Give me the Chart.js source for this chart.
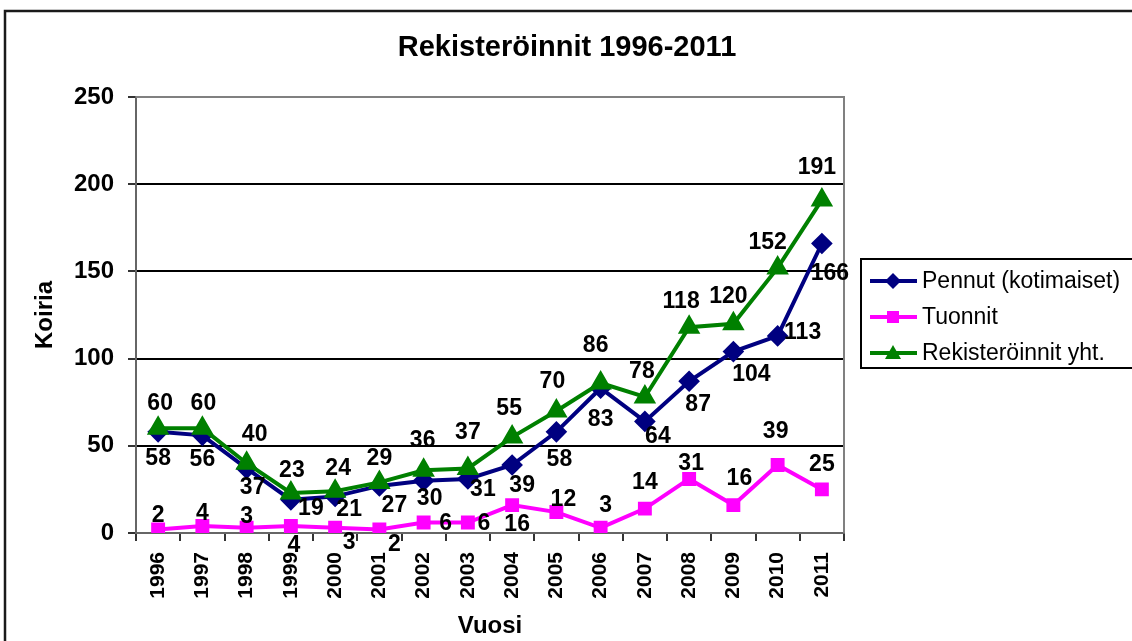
<!DOCTYPE html>
<html>
<head>
<meta charset="utf-8">
<script src="https://cdn.jsdelivr.net/npm/chart.js@4.4.1/dist/chart.umd.min.js"></script>
<style>
body { margin: 0; background: #fff; }
#myChart { display: block; }
</style>
</head>
<body>
<canvas id="myChart" width="1132" height="641"></canvas>
<script>
years = ['1996','1997','1998','1999','2000','2001','2002','2003','2004','2005','2006','2007','2008','2009','2010','2011']
pennut = [58, 56, 37, 19, 21, 27, 30, 31, 39, 58, 83, 64, 87, 104, 113, 166]
tuonnit = [2, 4, 3, 4, 3, 2, 6, 6, 16, 12, 3, 14, 31, 16, 39, 25]
yhteensa = [60, 60, 40, 23, 24, 29, 36, 37, 55, 70, 86, 78, 118, 120, 152, 191]
yTicks = [0, 50, 100, 150, 200, 250]

// where each value label sits relative to its point (dx, dy), like the excel original
pennutLabelPos = [[0,27],[0,24],[6,19],[20,9],[14,13],[15,20],[6,18],[15,11],[10,21],[3,28],[0,31],[13,15],[9,23],[18,23],[25,-3],[8,30]]
tuonnitLabelPos = [[0,-14],[0,-12],[0,-11],[3,20],[14,15],[15,15],[22,1],[16,1],[5,20],[7,-12],[5,-22],[0,-26],[2,-15],[6,-26],[-2,-33],[0,-25]]
yhtLabelPos = [[2,-25],[1,-25],[8,-29],[1,-22],[3,-22],[0,-24],[-1,-30],[0,-36],[-3,-28],[-4,-29],[-5,-37],[-3,-25],[-8,-26],[-5,-27],[-10,-25],[-5,-32]]

const FONT = "'Liberation Sans', Arial, sans-serif"

const extras = {
  id: 'extras',
  beforeDraw(chart) {
    const c = chart.ctx
    c.save()
    c.fillStyle = '#fff'
    c.fillRect(0, 0, chart.width, chart.height)
    c.restore()
  },
  afterDatasetsDraw(chart) {
    const c = chart.ctx
    const a = chart.chartArea
    c.save()
    // plot frame (top and right)
    c.strokeStyle = '#808080'
    c.lineWidth = 2
    c.beginPath()
    c.moveTo(a.left, a.top)
    c.lineTo(a.right, a.top)
    c.lineTo(a.right, a.bottom)
    c.stroke()

    // value labels
    c.fillStyle = '#000'
    c.font = 'bold 23px ' + FONT
    c.textAlign = 'center'
    c.textBaseline = 'middle'
    chart.data.datasets.forEach(function(ds, di) {
      const meta = chart.getDatasetMeta(di)
      meta.data.forEach(function(pt, i) {
        const off = ds.labelPos[i]
        c.fillText(String(ds.data[i]), pt.x + off[0], pt.y + off[1])
      })
    })

    // title
    c.font = 'bold 29px ' + FONT
    c.fillText('Rekisteröinnit 1996-2011', 567, 48)

    // outer frame
    c.strokeStyle = '#1a1a1a'
    c.lineWidth = 2.5
    c.strokeRect(5, 11, 1200, 700)

    // legend box
    c.lineWidth = 2
    c.strokeStyle = '#000'
    c.strokeRect(861, 259, 400, 109)
    c.textAlign = 'left'
    c.font = '23px ' + FONT
    chart.data.datasets.forEach(function(ds, di) {
      const y = 281 + di * 36
      c.strokeStyle = ds.borderColor
      c.lineWidth = 4
      c.beginPath()
      c.moveTo(870, y)
      c.lineTo(917, y)
      c.stroke()
      c.fillStyle = ds.borderColor
      c.beginPath()
      if (ds.pointStyle === 'rectRot') {
        c.moveTo(893, y - 8); c.lineTo(901, y); c.lineTo(893, y + 8); c.lineTo(885, y)
      } else if (ds.pointStyle === 'rect') {
        c.rect(887, y - 6, 12, 12)
      } else {
        c.moveTo(893, y - 8); c.lineTo(901, y + 6); c.lineTo(885, y + 6)
      }
      c.closePath()
      c.fill()
      c.fillStyle = '#000'
      c.fillText(ds.label, 922, y + 1)
    })
    c.restore()
  }
}

const ctx = document.getElementById('myChart').getContext('2d')
const myChart = new Chart(ctx, {
  type: 'line',
  data: {
    labels: years,
    datasets: [{
      label: 'Pennut (kotimaiset)',
      data: pennut,
      labelPos: pennutLabelPos,
      borderColor: '#000080',
      backgroundColor: '#000080',
      borderWidth: 4,
      pointStyle: 'rectRot',
      pointRadius: 8,
      pointHoverRadius: 8,
      tension: 0,
      order: 2
    }, {
      label: 'Tuonnit',
      data: tuonnit,
      labelPos: tuonnitLabelPos,
      borderColor: '#ff00ff',
      backgroundColor: '#ff00ff',
      borderWidth: 4,
      pointStyle: 'rect',
      pointRadius: 7,
      pointHoverRadius: 7,
      tension: 0,
      order: 3
    }, {
      label: 'Rekisteröinnit yht.',
      data: yhteensa,
      labelPos: yhtLabelPos,
      borderColor: '#008000',
      backgroundColor: '#008000',
      borderWidth: 4,
      pointStyle: 'triangle',
      pointRadius: 9,
      pointHoverRadius: 9,
      tension: 0,
      order: 1
    }]
  },
  options: {
    responsive: false,
    animation: false,
    layout: { padding: { left: 27, right: 288, top: 97, bottom: 0 } },
    plugins: {
      legend: { display: false },
      title: { display: false },
      tooltip: { enabled: false }
    },
    scales: {
      x: {
        offset: true,
        afterFit: function(scale) { scale.height = 108 },
        grid: {
          offset: true,
          drawOnChartArea: false,
          tickLength: 8,
          tickColor: '#333',
          lineWidth: 2
        },
        border: { color: '#666', width: 2 },
        ticks: {
          color: '#000',
          font: { family: FONT, size: 21, weight: 'bold' },
          minRotation: 90,
          maxRotation: 90,
          padding: 11,
          autoSkip: false
        },
        title: {
          display: true,
          text: 'Vuosi',
          color: '#000',
          font: { family: FONT, size: 24, weight: 'bold' },
          padding: { top: 0, bottom: 0 }
        }
      },
      y: {
        min: 0,
        max: 250,
        afterFit: function(scale) { scale.width = 109 },
        afterBuildTicks: function(scale) { scale.ticks = yTicks.map(function(v) { return { value: v } }) },
        grid: {
          color: function(c) { return c.tick && c.tick.value === 250 ? '#808080' : '#000' },
          lineWidth: 2,
          tickLength: 8,
          tickColor: '#333'
        },
        border: { color: '#666', width: 2 },
        ticks: {
          color: '#000',
          font: { family: FONT, size: 24, weight: 'bold' },
          padding: 14
        },
        title: {
          display: true,
          text: 'Koiria',
          color: '#000',
          font: { family: FONT, size: 24, weight: 'bold' }
        }
      }
    }
  },
  plugins: [extras]
})
</script>
</body>
</html>
